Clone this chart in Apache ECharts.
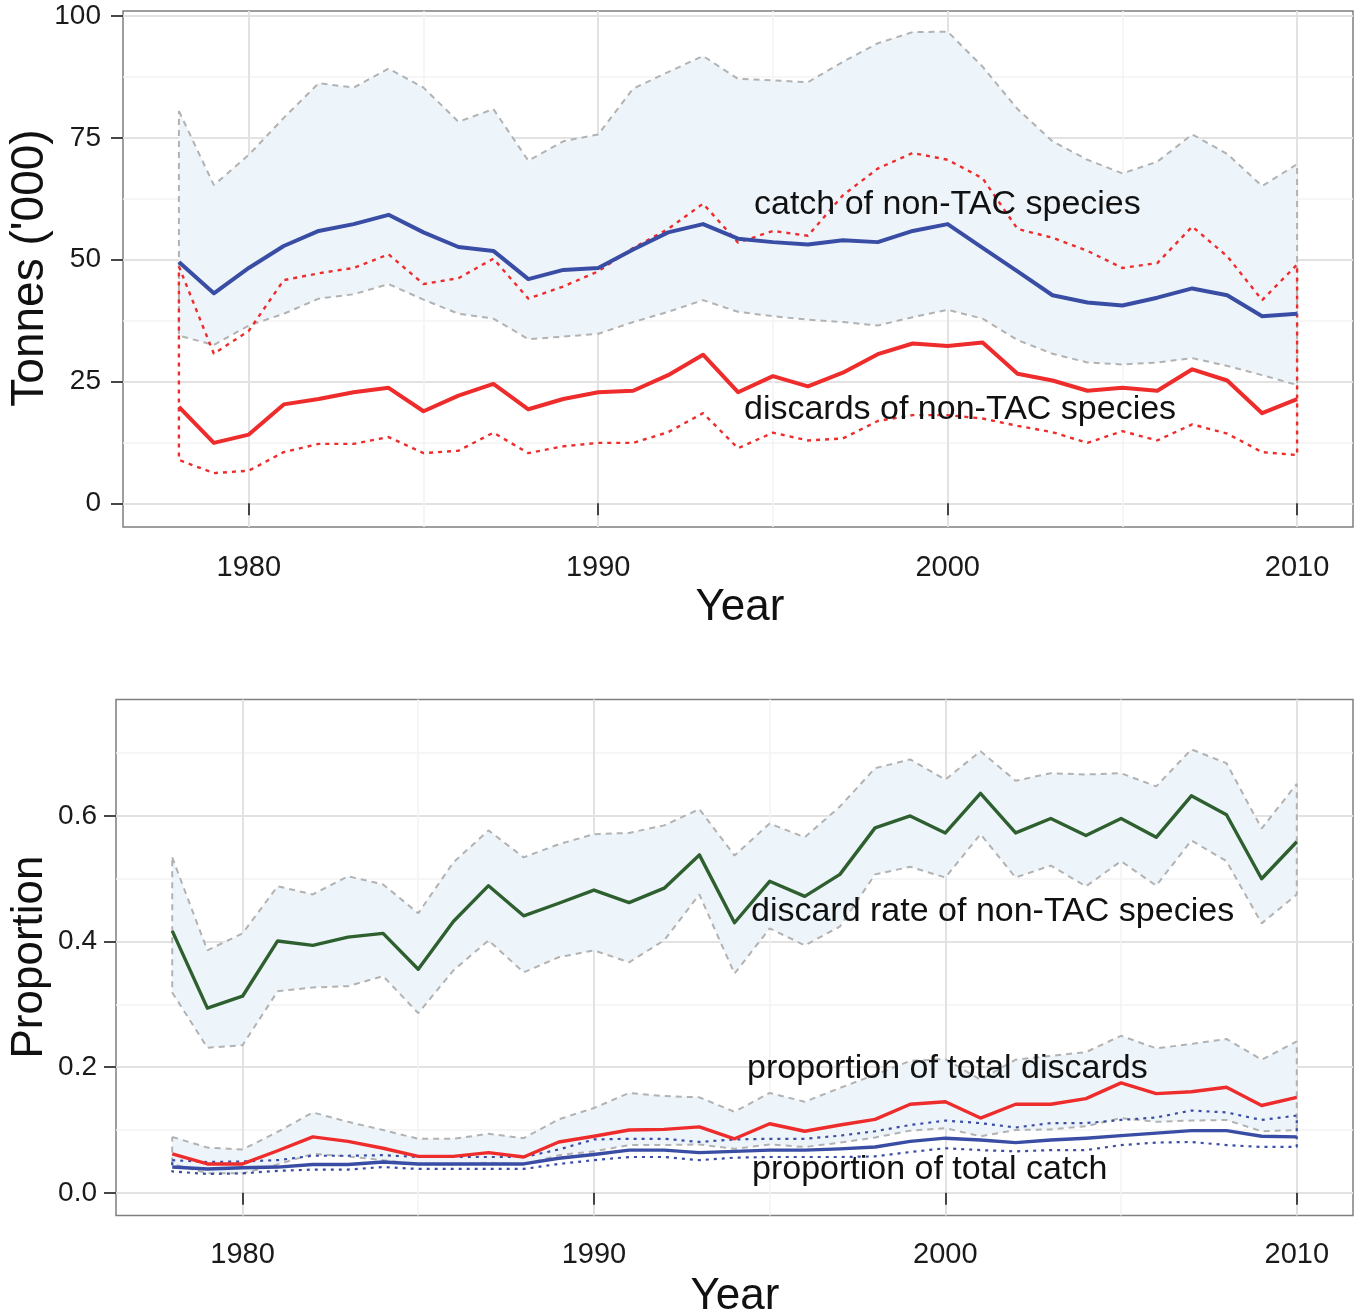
<!DOCTYPE html>
<html><head><meta charset="utf-8">
<script src="https://cdn.jsdelivr.net/npm/echarts@6/dist/echarts.min.js"></script>
<style>html,body{margin:0;padding:0;background:#fff}#c{width:1354px;height:1314px}</style>
</head><body><div id="c"></div>
<script>
// ---------- data ----------
const years = [1978,1979,1980,1981,1982,1983,1984,1985,1986,1987,1988,1989,1990,1991,1992,1993,1994,1995,1996,1997,1998,1999,2000,2001,2002,2003,2004,2005,2006,2007,2008,2009,2010];

// top panel (tonnes '000)
const catchMid   = [49.5,43.1,48.3,52.8,55.9,57.3,59.2,55.6,52.6,51.8,46.0,47.9,48.3,52.1,55.6,57.3,54.3,53.6,53.1,54.0,53.6,55.9,57.3,52.4,47.6,42.7,41.2,40.6,42.2,44.1,42.7,38.4,38.9];
const catchUpper = [80.5,65.3,71.5,79.1,86.2,85.3,89.2,85.3,78.3,80.9,70.3,74.3,75.7,85.1,88.5,91.8,87.1,86.8,86.4,90.6,94.4,96.7,96.8,89.6,80.9,74.3,70.5,67.7,70.1,75.7,71.7,65.1,69.6];
const catchLower = [34.4,32.5,36.5,38.9,42.0,42.9,45.0,41.8,38.9,37.9,33.7,34.2,34.8,37.2,39.3,41.7,39.3,38.4,37.7,37.2,36.5,38.2,39.7,37.9,33.5,30.7,28.9,28.5,28.9,29.8,28.2,26.3,24.3];
const discMid    = [19.8,12.4,14.1,20.3,21.4,22.8,23.7,18.9,22.1,24.5,19.3,21.4,22.8,23.1,26.3,30.5,22.8,26.1,24.0,26.8,30.6,32.8,32.3,33.0,26.6,25.2,23.1,23.7,23.1,27.5,25.2,18.5,21.4];
const discUpper  = [48.6,30.7,35.4,45.8,47.2,48.3,51.1,45.0,46.2,50.2,42.0,44.5,47.6,52.4,56.3,61.5,53.5,55.9,54.9,63.2,68.7,71.9,70.5,66.7,56.3,54.5,51.8,48.3,49.3,56.8,50.7,41.7,49.0];
const discLower  = [8.9,6.2,6.7,10.5,12.2,12.2,13.6,10.3,10.8,14.5,10.3,11.7,12.4,12.4,14.6,18.5,11.3,14.5,12.9,13.3,16.9,18.1,18.1,17.4,15.9,14.6,12.4,14.8,12.9,16.2,14.3,10.5,9.9];

// bottom panel (proportions)
const rateMid    = [0.417,0.294,0.313,0.401,0.394,0.407,0.413,0.356,0.432,0.489,0.441,0.461,0.482,0.462,0.485,0.538,0.430,0.496,0.472,0.507,0.581,0.600,0.573,0.636,0.573,0.596,0.569,0.596,0.566,0.632,0.602,0.500,0.559];
const rateUpper  = [0.534,0.386,0.413,0.488,0.475,0.504,0.491,0.445,0.526,0.577,0.534,0.555,0.571,0.573,0.585,0.611,0.537,0.588,0.566,0.615,0.676,0.690,0.658,0.703,0.656,0.668,0.666,0.668,0.647,0.706,0.684,0.580,0.651];
const rateLower  = [0.319,0.231,0.235,0.321,0.327,0.329,0.345,0.286,0.354,0.402,0.351,0.375,0.386,0.367,0.402,0.475,0.349,0.421,0.394,0.424,0.507,0.519,0.502,0.571,0.502,0.521,0.488,0.528,0.489,0.561,0.528,0.429,0.475];
const pDiscMid   = [0.062,0.046,0.046,0.067,0.089,0.082,0.071,0.058,0.058,0.064,0.057,0.081,0.090,0.100,0.101,0.105,0.086,0.110,0.098,0.108,0.117,0.141,0.145,0.119,0.141,0.141,0.150,0.175,0.158,0.161,0.168,0.139,0.152];
const pDiscUpper = [0.089,0.072,0.069,0.097,0.128,0.113,0.100,0.086,0.086,0.094,0.087,0.117,0.135,0.159,0.154,0.152,0.129,0.159,0.145,0.167,0.188,0.210,0.213,0.180,0.212,0.218,0.224,0.250,0.230,0.237,0.245,0.212,0.241];
const pDiscLower = [0.046,0.031,0.031,0.045,0.062,0.058,0.052,0.045,0.045,0.048,0.045,0.060,0.066,0.076,0.076,0.077,0.070,0.077,0.073,0.080,0.088,0.099,0.103,0.090,0.100,0.101,0.106,0.119,0.113,0.115,0.116,0.098,0.100];
const pCatchMid  = [0.041,0.038,0.040,0.041,0.045,0.045,0.049,0.046,0.046,0.046,0.046,0.055,0.061,0.068,0.068,0.064,0.066,0.068,0.068,0.070,0.073,0.082,0.087,0.084,0.080,0.084,0.087,0.091,0.095,0.099,0.099,0.090,0.089];
const pCatchUpper= [0.052,0.049,0.050,0.052,0.059,0.059,0.060,0.057,0.057,0.057,0.057,0.069,0.085,0.086,0.086,0.081,0.085,0.086,0.086,0.091,0.098,0.108,0.115,0.111,0.104,0.111,0.111,0.116,0.120,0.131,0.128,0.116,0.123];
const pCatchLower= [0.034,0.030,0.031,0.035,0.037,0.037,0.041,0.038,0.038,0.038,0.038,0.046,0.052,0.057,0.057,0.052,0.056,0.057,0.057,0.057,0.058,0.065,0.071,0.068,0.066,0.068,0.068,0.076,0.080,0.081,0.076,0.073,0.073];

// ticks & labels
const xTicks = [1980,1990,2000,2010];
const topYTicks = [0,25,50,75,100];
const botYTicks = [0,0.2,0.4,0.6];
const topYTitle = "Tonnes ('000)";
const botYTitle = "Proportion";
const xTitle = "Year";
const labelCatch = "catch of non-TAC species";
const labelDisc = "discards of non-TAC species";
const labelRate = "discard rate of non-TAC species";
const labelPDisc = "proportion of total discards";
const labelPCatch = "proportion of total catch";

// ---------- styles ----------
const FONT = '"Liberation Sans", Arial, Helvetica, sans-serif';
const BLUE = '#3A4DA5', RED = '#EE2C2C', GREEN = '#2E5F2E', GREY = '#B2B2B2', FILL = '#EEF5FA';

function pairs(d){ return years.map((y,i)=>[y,d[i]]); }
function lineS(ax, d, color, width, z){
  return {type:'line', xAxisIndex:ax, yAxisIndex:ax, data:pairs(d), symbol:'none', showSymbol:false,
    lineStyle:{color, width, type:'solid', cap:'butt', join:'round'}, z, silent:true, animation:false};
}
function outlineS(ax, up, lo, color, width, dash, z){
  const pts = [];
  for (let i=0;i<years.length;i++) pts.push([years[i], up[i]]);
  for (let i=years.length-1;i>=0;i--) pts.push([years[i], lo[i]]);
  pts.push([years[0], up[0]]);
  return {type:'line', xAxisIndex:ax, yAxisIndex:ax, data:pts, symbol:'none', showSymbol:false,
    lineStyle:{color, width, type:dash, cap:'butt'}, z, silent:true, animation:false};
}
function bandS(ax, up, lo, fill, z){
  return {type:'custom', xAxisIndex:ax, yAxisIndex:ax, z, silent:true, animation:false,
    data: years.map((y,i)=>[y, up[i], lo[i]]),
    encode:{x:0, y:1},
    renderItem:function(params, api){
      if (params.dataIndex !== 0) return null;
      const p = [];
      for (let i=0;i<years.length;i++) p.push(api.coord([years[i], up[i]]));
      for (let i=years.length-1;i>=0;i--) p.push(api.coord([years[i], lo[i]]));
      return {type:'polygon', shape:{points:p}, style:{fill:fill, stroke:null}};
    }};
}
function xAx(grid, margin){
  return {type:'value', gridIndex:grid, min:1976.4, max:2011.6, minInterval:10, maxInterval:10,
    axisLine:{show:false},
    axisTick:{show:true, length:12, customValues:xTicks, lineStyle:{color:'#333', width:1.8}},
    axisLabel:{customValues:xTicks, fontSize:29, fontFamily:FONT, color:'#1a1a1a', margin, formatter:v=>String(v)},
    splitLine:{show:true, lineStyle:{color:'#E2E2E2', width:2}},
    minorTick:{show:false, splitNumber:2},
    minorSplitLine:{show:true, lineStyle:{color:'#F3F3F3', width:1.5}}};
}
function yAx(grid, min, max, iv, ticks, fmt, margin){
  return {type:'value', gridIndex:grid, min, max, minInterval:iv, maxInterval:iv,
    axisLine:{show:false},
    axisTick:{show:true, length:12, customValues:ticks, lineStyle:{color:'#333', width:1.8}},
    axisLabel:{customValues:ticks, fontSize:28, fontFamily:FONT, color:'#1a1a1a', margin, formatter:fmt},
    splitLine:{show:true, lineStyle:{color:'#E2E2E2', width:2}},
    minorTick:{show:false, splitNumber:2},
    minorSplitLine:{show:true, lineStyle:{color:'#F3F3F3', width:1.5}}};
}
function txt(x, y, s, size, rot, align){
  return {type:'text', x, y, rotation:rot||0, z:100, silent:true,
    style:{text:s, font:size+'px '+FONT, fill:'#111', textAlign:align||'left', textVerticalAlign:'middle', align:align||'left', verticalAlign:'middle'}};
}

const chart = echarts.init(document.getElementById('c'), null, {renderer:'canvas'});
chart.setOption({
  animation:false,
  backgroundColor:'#ffffff',
  grid:[
    {left:123, top:11, width:1230, height:516, show:true, borderColor:'#7F7F7F', borderWidth:1.5, backgroundColor:'transparent', containLabel:false},
    {left:116, top:699.5, width:1237, height:516, show:true, borderColor:'#7F7F7F', borderWidth:1.5, backgroundColor:'transparent', containLabel:false}
  ],
  xAxis:[ xAx(0, 26), xAx(1, 24.5) ],
  yAxis:[
    yAx(0, -4.86, 101.03, 25, topYTicks, v=>String(v), 22),
    yAx(1, -0.0361, 0.7854, 0.2, botYTicks, v=>v.toFixed(1), 19)
  ],
  series:[
    // top panel
    bandS(0, catchUpper, catchLower, FILL, 1),
    outlineS(0, catchUpper, catchLower, GREY, 2, [6,5], 2),
    outlineS(0, discUpper, discLower, RED, 2.4, [4,5], 3),
    lineS(0, catchMid, BLUE, 4, 4),
    lineS(0, discMid, RED, 4, 4),
    // bottom panel
    bandS(1, rateUpper, rateLower, FILL, 1),
    bandS(1, pDiscUpper, pDiscLower, FILL, 1),
    outlineS(1, rateUpper, rateLower, GREY, 2, [6,5], 2),
    outlineS(1, pDiscUpper, pDiscLower, GREY, 2, [6,5], 2),
    outlineS(1, pCatchUpper, pCatchLower, BLUE, 2.2, [3,5], 3),
    lineS(1, rateMid, GREEN, 3.4, 4),
    lineS(1, pDiscMid, RED, 3.4, 4),
    lineS(1, pCatchMid, BLUE, 3.4, 4)
  ],
  graphic:[
    txt(30, 268, topYTitle, 46, Math.PI/2, 'center'),
    txt(30, 957, botYTitle, 44, Math.PI/2, 'center'),
    txt(740, 608, xTitle, 44, 0, 'center'),
    txt(735, 1297, xTitle, 44, 0, 'center'),
    txt(754, 204.5, labelCatch, 34),
    txt(744, 410, labelDisc, 34),
    txt(751, 912, labelRate, 34),
    txt(747, 1069, labelPDisc, 34),
    txt(752, 1170, labelPCatch, 34)
  ]
});
</script></body></html>
